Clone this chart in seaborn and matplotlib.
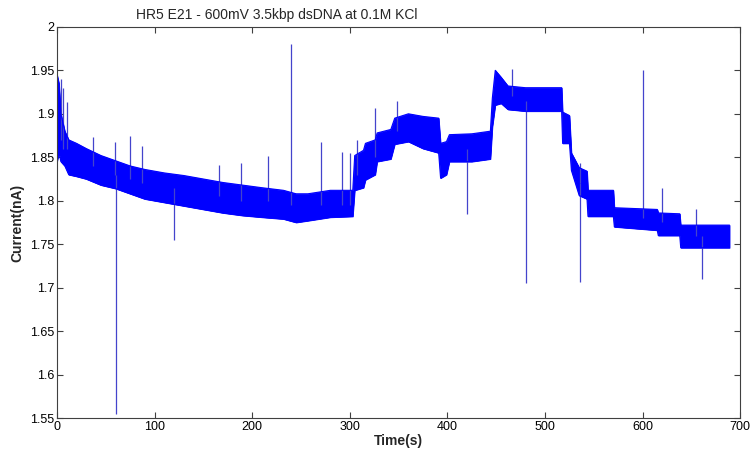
import numpy as np
import seaborn as sns
import matplotlib.pyplot as plt

# noise band of the current trace (time in s, current in nA)
t_band = [0, 2, 4, 8, 12, 20, 30, 45, 60, 75, 90, 110, 130, 150, 170, 190, 210, 232, 245, 257,
          280, 303, 305, 314, 316, 326, 328, 342, 346, 360, 375, 391, 393, 399, 402, 425, 444,
          446, 449, 455, 462, 480, 500, 517, 518, 525, 527, 535, 543, 544, 570, 571, 615, 616,
          638, 639, 689]
i_low = [1.845, 1.855, 1.845, 1.840, 1.830, 1.828, 1.825, 1.818, 1.814, 1.808, 1.802, 1.798,
         1.794, 1.790, 1.786, 1.783, 1.781, 1.779, 1.775, 1.777, 1.781, 1.782, 1.812, 1.815,
         1.824, 1.830, 1.845, 1.848, 1.865, 1.868, 1.860, 1.855, 1.826, 1.830, 1.845, 1.845,
         1.848, 1.885, 1.910, 1.912, 1.905, 1.903, 1.903, 1.903, 1.866, 1.866, 1.835, 1.806,
         1.802, 1.782, 1.782, 1.770, 1.766, 1.760, 1.760, 1.746, 1.746]
i_high = [1.945, 1.935, 1.900, 1.880, 1.870, 1.866, 1.860, 1.852, 1.846, 1.840, 1.836, 1.832,
          1.829, 1.825, 1.821, 1.818, 1.815, 1.812, 1.808, 1.808, 1.812, 1.812, 1.852, 1.858,
          1.866, 1.870, 1.878, 1.882, 1.895, 1.900, 1.897, 1.895, 1.866, 1.868, 1.876, 1.877,
          1.880, 1.918, 1.950, 1.942, 1.932, 1.930, 1.930, 1.930, 1.902, 1.898, 1.855, 1.838,
          1.834, 1.812, 1.812, 1.792, 1.790, 1.786, 1.785, 1.772, 1.772]

# single spikes (events)
spike_t = [4, 6, 10, 37, 59, 75, 87, 166, 189, 216, 240, 270, 292, 300, 307, 326, 348, 466,
           536, 600, 620, 655, 60, 120, 420, 481, 536, 661]
spike_base = [1.87, 1.86, 1.86, 1.84, 1.83, 1.825, 1.82, 1.805, 1.80, 1.80, 1.795, 1.795,
              1.795, 1.795, 1.83, 1.85, 1.88, 1.92, 1.82, 1.78, 1.775, 1.76, 1.83, 1.815,
              1.86, 1.915, 1.82, 1.76]
spike_tip = [1.94, 1.93, 1.913, 1.873, 1.867, 1.875, 1.863, 1.841, 1.843, 1.852, 1.98, 1.868,
             1.856, 1.855, 1.87, 1.907, 1.915, 1.951, 1.843, 1.95, 1.815, 1.79, 1.555, 1.755,
             1.785, 1.705, 1.707, 1.71]

sns.set_style('ticks')
plt.rcParams['font.family'] = ['Liberation Sans', 'DejaVu Sans']
plt.rcParams['xtick.direction'] = 'in'
plt.rcParams['ytick.direction'] = 'in'

fig = plt.figure(figsize=(7.5, 4.55), dpi=100)
ax = fig.add_axes([0.076, 0.081, 0.911, 0.86])

ax.vlines(spike_t, spike_base, spike_tip, color='#4444cc', linewidth=0.9)
ax.fill_between(t_band, i_low, i_high, facecolor='#0000ff', edgecolor='#0000ff',
                linewidth=0.6, antialiased=False)
sns.lineplot(x=t_band, y=i_low, color='#0000ff', linewidth=0.8, ax=ax)
sns.lineplot(x=t_band, y=i_high, color='#0000ff', linewidth=0.8, ax=ax)

ax.set_xlim(0, 700)
ax.set_ylim(1.55, 2.0)
ax.set_xticks(np.arange(0, 701, 100))
ax.set_yticks([1.55, 1.6, 1.65, 1.7, 1.75, 1.8, 1.85, 1.9, 1.95, 2])
ax.set_yticklabels(['1.55', '1.6', '1.65', '1.7', '1.75', '1.8', '1.85', '1.9', '1.95', '2'])
ax.tick_params(top=True, right=True, labelsize=9, length=4, width=0.8, colors='#404040',
               labelcolor='black', pad=2)
for s in ax.spines.values():
    s.set_color('#404040')
    s.set_linewidth(0.8)

ax.set_title('HR5 E21 - 600mV 3.5kbp dsDNA at 0.1M KCl', fontsize=10, x=0.322, pad=6)
ax.set_xlabel('Time(s)', fontsize=10, fontweight='bold', labelpad=1)
ax.set_ylabel('Current(nA)', fontsize=10, fontweight='bold', labelpad=4)

fig.savefig('out.png', dpi=100)
